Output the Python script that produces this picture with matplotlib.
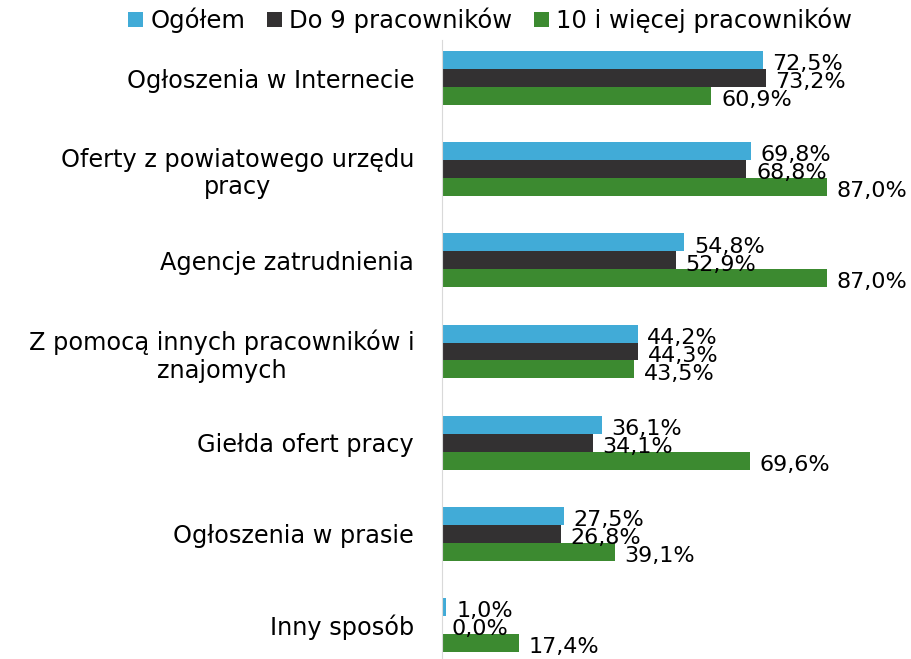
import numpy as np
import matplotlib.pyplot as plt

categories = [
    "Ogłoszenia w Internecie",
    "Oferty z powiatowego urzędu\npracy",
    "Agencje zatrudnienia",
    "Z pomocą innych pracowników i\nznajomych",
    "Giełda ofert pracy",
    "Ogłoszenia w prasie",
    "Inny sposób",
]
series_names = ["Ogółem", "Do 9 pracowników", "10 i więcej pracowników"]
ogolem = [72.5, 69.8, 54.8, 44.2, 36.1, 27.5, 1.0]
do9 = [73.2, 68.8, 52.9, 44.3, 34.1, 26.8, 0.0]
od10 = [60.9, 87.0, 87.0, 43.5, 69.6, 39.1, 17.4]

colors = ["#41abd7", "#333132", "#3c8a30"]

fig = plt.figure(figsize=(9.11, 6.59), dpi=100)
ax = fig.add_axes([442 / 911, 0, 1 - 442 / 911, 619 / 659])

y = np.arange(len(categories))
h = 0.197
for i, (vals, col, name) in enumerate(zip([ogolem, do9, od10], colors, series_names)):
    pos = y + (i - 1) * h
    ax.barh(pos, vals, height=h, color=col, label=name)
    for p, v in zip(pos, vals):
        ax.annotate(f"{v:.1f}%".replace(".", ","), (v, p), xytext=(7, -3),
                    textcoords="offset points", ha="left", va="center",
                    fontsize=16, color="black")

ax.set_xlim(0, 106)
ax.set_ylim(6.373, -0.417)
ax.set_yticks(y)
ax.set_yticklabels(categories, fontsize=17.3, multialignment="center")
ax.tick_params(axis="y", length=0, pad=20)
ax.set_xticks([])
for s in ["top", "right", "bottom"]:
    ax.spines[s].set_visible(False)
ax.spines["left"].set_color("#d9d9d9")

handles, labels = ax.get_legend_handles_labels()
fig.legend(handles, labels, loc="upper center", bbox_to_anchor=(0.538, 1.022),
           ncol=3, frameon=False, fontsize=17.5, handlelength=0.6,
           handleheight=0.6, handletextpad=0.3, columnspacing=0.9)

fig.savefig("out.png", dpi=100)
